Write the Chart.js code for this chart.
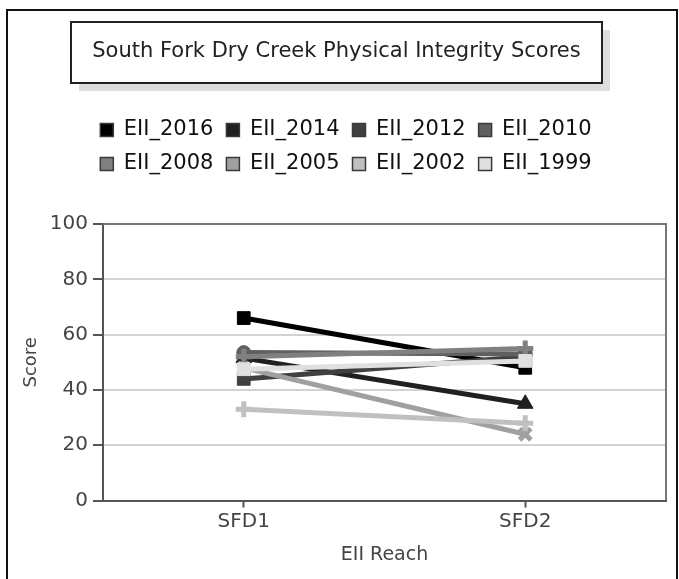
<!DOCTYPE html>
<html>
<head>
<meta charset="utf-8">
<title>South Fork Dry Creek Physical Integrity Scores</title>
<script src="https://cdn.jsdelivr.net/npm/chart.js@4.4.1/dist/chart.umd.min.js"></script>
<style>
  html, body { margin: 0; padding: 0; background: #fff; }
  #wrap { width: 679px; height: 579px; }
</style>
</head>
<body>
<div id="wrap"><canvas id="chart" width="679" height="579"></canvas></div>
<script>
// data
const reaches = ['SFD1', 'SFD2'];
const seriesNames = ['EII_2016', 'EII_2014', 'EII_2012', 'EII_2010', 'EII_2008', 'EII_2005', 'EII_2002', 'EII_1999'];
const eii2016 = [66, 48];
const eii2014 = [51.5, 35];
const eii2012 = [44, 52];
const eii2010 = [53.5, 53];
const eii2008 = [52, 55];
const eii2005 = [48, 24];
const eii2002 = [33, 28];
const eii1999 = [47.5, 50.5];
const yTicks = [0, 20, 40, 60, 80, 100];

const seriesValues = [eii2016, eii2014, eii2012, eii2010, eii2008, eii2005, eii2002, eii1999];

// styling
const greys = ['#000000', '#202020', '#404040', '#606060', '#808080', '#a0a0a0', '#c0c0c0', '#e0e0e0'];
const shapes = ['rect', 'triangle', 'rect', 'circle', 'cross', 'crossRot', 'cross', 'rect'];
const shapeSize = { rect: 9, triangle: 9, circle: 7, cross: 8, crossRot: 8 };

Chart.defaults.font.family = '"DejaVu Sans", sans-serif';
Chart.defaults.color = '#444';

const datasets = seriesNames.map((name, i) => {
  const isCross = shapes[i] === 'cross' || shapes[i] === 'crossRot';
  return {
    label: name,
    data: seriesValues[i],
    // later years are painted underneath, like the original
    order: seriesNames.length - 1 - i,
    borderColor: greys[i],
    backgroundColor: greys[i],
    borderWidth: 5,
    pointStyle: shapes[i],
    pointRadius: shapeSize[shapes[i]],
    pointHoverRadius: shapeSize[shapes[i]],
    pointBackgroundColor: greys[i],
    pointBorderColor: greys[i],
    pointBorderWidth: isCross ? 5 : 1,
    tension: 0,
    fill: false
  };
});

// white background, outer frame, title box with shadow, plot border
const framePlugin = {
  id: 'frame',
  afterLayout(chart) {
    // the original title sits a little left of the legend centre
    chart.titleBlock.left -= 9.5;
    chart.titleBlock.right -= 9.5;
  },
  beforeDraw(chart) {
    const ctx = chart.ctx;
    const t = chart.titleBlock;
    const opts = chart.options.plugins.title;
    const font = Chart.helpers.toFont(opts.font);
    ctx.save();
    ctx.fillStyle = '#fff';
    ctx.fillRect(0, 0, chart.width, chart.height);

    ctx.strokeStyle = '#111';
    ctx.lineWidth = 2;
    ctx.beginPath();
    ctx.moveTo(7, chart.height + 2);
    ctx.lineTo(7, 10);
    ctx.lineTo(677, 10);
    ctx.lineTo(677, chart.height + 2);
    ctx.stroke();

    ctx.font = font.string;
    const tw = ctx.measureText(opts.text).width;
    const cx = (t.left + t.right) / 2;
    const cy = t.top + opts.padding.top + font.lineHeight / 2;
    const bw = Math.round(tw + 43), bh = 61;
    const x0 = Math.round(cx - bw / 2), y0 = Math.round(cy - bh / 2);
    ctx.fillStyle = '#dedede';
    ctx.fillRect(x0 + 8, y0 + 8, bw, bh);
    ctx.fillStyle = '#fff';
    ctx.fillRect(x0, y0, bw, bh);
    ctx.strokeStyle = '#222';
    ctx.strokeRect(x0, y0, bw, bh);
    ctx.restore();
  },
  beforeDatasetsDraw(chart) {
    const { ctx, chartArea: a } = chart;
    ctx.save();
    ctx.strokeStyle = '#777';
    ctx.lineWidth = 2;
    ctx.beginPath();
    ctx.moveTo(a.left, a.top);
    ctx.lineTo(a.right, a.top);
    ctx.lineTo(a.right, a.bottom);
    ctx.stroke();
    ctx.restore();
  }
};

new Chart(document.getElementById('chart'), {
  type: 'line',
  data: { labels: reaches, datasets: datasets },
  plugins: [framePlugin],
  options: {
    responsive: false,
    animation: false,
    events: [],
    layout: { padding: { left: 26, right: 13, top: 0, bottom: 12.6 } },
    plugins: {
      title: {
        display: true,
        text: 'South Fork Dry Creek Physical Integrity Scores',
        color: '#222',
        font: { size: 21, weight: 'normal' },
        padding: { top: 39.4, bottom: 41.9 }
      },
      legend: {
        display: true,
        position: 'top',
        weight: 1500,
        labels: {
          boxWidth: 13,
          boxHeight: 13,
          padding: 13,
          color: '#111',
          font: { size: 21 },
          sort: (a, b) => a.datasetIndex - b.datasetIndex,
          generateLabels(chart) {
            const items = Chart.defaults.plugins.legend.labels.generateLabels(chart);
            items.forEach(it => { it.strokeStyle = '#3a3a3a'; it.lineWidth = 1.5; });
            return items;
          }
        }
      },
      subtitle: {
        // spacer between the legend and the plot
        display: true,
        text: ' ',
        weight: 1000,
        font: { size: 10 },
        padding: { top: 0, bottom: 27.5 }
      },
      tooltip: { enabled: false }
    },
    scales: {
      x: {
        offset: true,
        ticks: { color: '#444', font: { size: 20 }, padding: 2 },
        grid: { drawOnChartArea: false, offset: false, tickColor: '#555', tickLength: 7, tickWidth: 2 },
        border: { color: '#555', width: 2 },
        title: { display: true, text: 'EII Reach', color: '#444', font: { size: 19 }, padding: { top: 8, bottom: 0 } }
      },
      y: {
        min: yTicks[0],
        max: yTicks[yTicks.length - 1],
        afterBuildTicks(scale) { scale.ticks = yTicks.map(v => ({ value: v })); },
        afterFit(scale) { scale.width = 77; },
        ticks: { color: '#444', font: { size: 20 }, padding: 5 },
        grid: { color: '#d2d2d2', lineWidth: 2, tickColor: '#555', tickLength: 10, tickWidth: 2 },
        border: { color: '#555', width: 2 },
        title: { display: true, text: 'Score', color: '#444', font: { size: 18 }, padding: { top: -5, bottom: 0 } }
      }
    }
  }
});
</script>
</body>
</html>
